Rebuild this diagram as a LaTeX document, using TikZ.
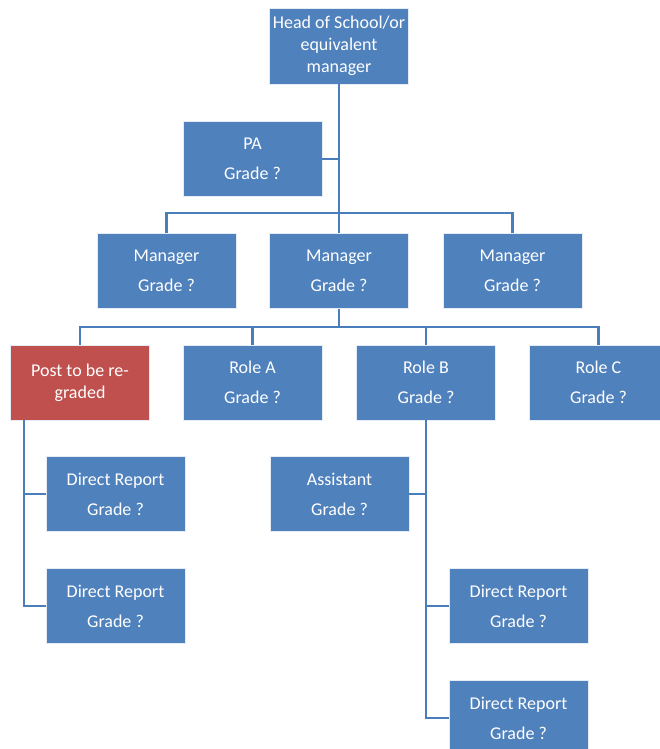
\documentclass[tikz,border=0pt]{standalone}
\usepackage{fontspec}
\setmainfont{Carlito}
\definecolor{boxblue}{HTML}{4F81BD}
\definecolor{boxred}{HTML}{C0504D}
\definecolor{linkblue}{HTML}{4A7EBB}
\begin{document}
\begin{tikzpicture}[x=1pt, y=-1pt, font=\fontsize{18}{22}\selectfont,
	box/.style={fill=boxblue, draw=white!85!boxblue, line width=0.6pt, text=white,
		minimum width=139pt, minimum height=75pt, align=center, inner sep=2pt},
	link/.style={draw=linkblue, line width=2.2pt}]
	\useasboundingbox (0,0) rectangle (659,749);
	\def\gr{\\[8pt]Grade ?}
	% top
	\node[box, minimum height=76pt] (head) at (339,46) {Head of School/or\\equivalent\\manager};
	\node[box] (pa) at (252.5,159) {PA\gr};
	% managers
	\node[box] (m1) at (166.5,271) {Manager\gr};
	\node[box] (m2) at (339,271) {Manager\gr};
	\node[box] (m3) at (512.5,271) {Manager\gr};
	% roles
	\node[box, fill=boxred] (post) at (80,382.5) {Post to be re-\\graded};
	\node[box] (ra) at (252.5,382.5) {Role A\gr};
	\node[box] (rb) at (426,382.5) {Role B\gr};
	\node[box] (rc) at (598.5,382.5) {Role C\gr};
	% reports
	\node[box] (d1) at (115.5,494) {Direct Report\gr};
	\node[box] (d2) at (115.5,606) {Direct Report\gr};
	\node[box] (as) at (339.5,494) {Assistant\gr};
	\node[box] (d3) at (518.5,606) {Direct Report\gr};
	\node[box] (d4) at (518.5,718) {Direct Report\gr};
	\path (339,213) coordinate (b1)
	(339,327) coordinate (b2)
	(24,420) coordinate (p0);
	% connectors
	\draw[link] (head.south) -- (m2.north);
	\draw[link] (pa.east) -- (pa.east -| head.south);
	\draw[link] (m1.north) |- (b1) -| (m3.north);
	\draw[link] (m2.south) -- (b2);
	\draw[link] (post.north) |- (b2) -| (rc.north);
	\foreach \n in {ra,rb}
	\draw[link] (\n.north) -- (\n.north |- b2);
	\draw[link] (p0) |- (d1.west);
	\draw[link] (p0) |- (d2.west);
	\draw[link] (rb.south) |- (d3.west);
	\draw[link] (rb.south) |- (d4.west);
	\draw[link] (as.east) -- (as.east -| rb.south);
\end{tikzpicture}
\end{document}
